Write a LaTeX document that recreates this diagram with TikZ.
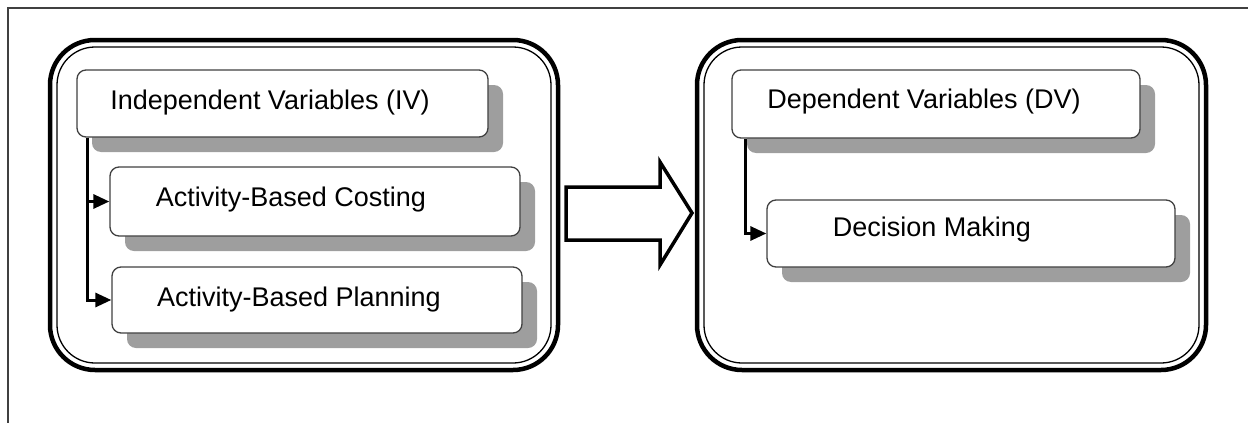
\documentclass[tikz,border=0pt]{standalone}
\usepackage{fontspec}
\setmainfont{Liberation Sans}
\usetikzlibrary{shadows,arrows.meta}
\begin{document}
\begin{tikzpicture}[x=1pt,y=-1pt,
  subbox/.style={draw=black!75, line width=1.3pt, fill=white, rounded corners=9pt, inner sep=0pt,
    drop shadow={shadow xshift=15pt, shadow yshift=-15pt, fill=black!38, opacity=1}},
  lbl/.style={font=\fontsize{27}{31}\selectfont, inner sep=0pt, anchor=center},
  conn/.style={line width=3pt, -{Triangle[length=16pt,width=14pt]}},
  bigouter/.style={line width=4.5pt, rounded corners=45pt},
  biginner/.style={line width=1.3pt, rounded corners=38pt}]
\useasboundingbox (0,0) rectangle (1248,423);
% page frame
\draw[black!75, line width=1.5pt] (8,430) -- (8,8) -- (1260,8);
% big boxes
\draw[bigouter] (50,40) rectangle (558,370);
\draw[biginner] (57,47) rectangle (551,363);
\draw[bigouter] (697,40) rectangle (1206,370);
\draw[biginner] (704,47) rectangle (1199,363);
% sub boxes
\node[subbox, minimum width=411pt, minimum height=67pt] (iv) at (282.5,103.5) {};
\node[subbox, minimum width=410pt, minimum height=69pt] (abc) at (315,201.5) {};
\node[subbox, minimum width=410pt, minimum height=66pt] (abp) at (317,300) {};
\node[subbox, minimum width=408pt, minimum height=68pt] (dv) at (936,104) {};
\node[subbox, minimum width=408pt, minimum height=67pt] (dm) at (971,233.5) {};
% labels
\node[lbl] (ivt) at (270,103) {Independent Variables (IV)};
\node[lbl] (abct) at (291,200) {Activity-Based Costing};
\node[lbl] (abpt) at (299,300) {Activity-Based Planning};
\node[lbl] (dvt) at (924,102) {Dependent Variables (DV)};
\node[lbl] (dmt) at (932,230) {Decision Making};
% connectors
\draw[conn] ([xshift=11pt]iv.south west) |- (abc.west);
\draw[conn] ([xshift=11pt]iv.south west) |- (abp.west);
\draw[conn] ([xshift=14pt]dv.south west) |- (dm.west);
% big arrow
\draw[line width=3.5pt, fill=white, line join=miter]
  (566,187) -- (660,187) -- (660,162) -- (692,213) -- (660,265) -- (660,240) -- (566,240) -- cycle;
\end{tikzpicture}
\end{document}
